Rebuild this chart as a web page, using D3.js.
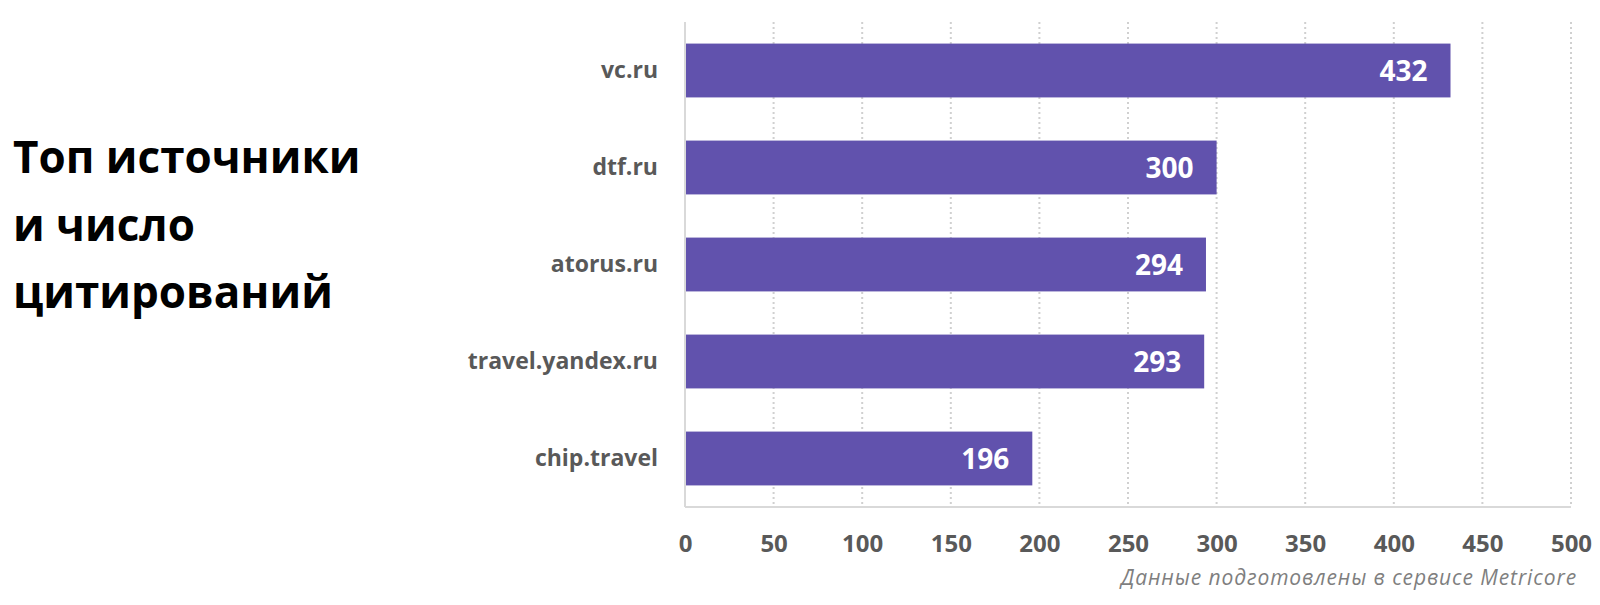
<!DOCTYPE html>
<html>
<head>
<meta charset="utf-8">
<script src="https://cdnjs.cloudflare.com/ajax/libs/d3/7.8.5/d3.min.js"></script>
<style>
  body { margin: 0; background: #fff; }
  text { font-family: "Open Sans", sans-serif; }
</style>
</head>
<body>
<div id="chart"></div>
<script>
// data
var sources = ["vc.ru", "dtf.ru", "atorus.ru", "travel.yandex.ru", "chip.travel"];
var citations = [432, 300, 294, 293, 196];
var ticks = [0, 50, 100, 150, 200, 250, 300, 350, 400, 450, 500];
var titleLines = ["Топ источники", "и число", "цитирований"];
var note = "Данные подготовлены в сервисе Metricore";

var W = 1600, H = 605;
var margin = { top: 22, left: 685, right: 29, bottom: 98 };
var width = W - margin.left - margin.right;
var height = H - margin.top - margin.bottom;

var svg = d3.select("#chart").append("svg")
  .attr("width", W)
  .attr("height", H);

// title on the left
svg.append("g").selectAll("text")
  .data(titleLines)
  .enter().append("text")
  .attr("x", 13)
  .attr("y", function(d, i) { return 173 + i * 67.5; })
  .style("font-size", "44px")
  .style("font-weight", "bold")
  .style("fill", "#000")
  .text(function(d) { return d; });

var g = svg.append("g")
  .attr("transform", "translate(" + margin.left + "," + margin.top + ")");

var x = d3.scaleLinear().domain([0, 500]).range([0, width]);
var y = d3.scaleBand().domain(sources).range([0, height]).paddingInner(0.445).paddingOuter(0.2225);

// dotted gridlines
g.selectAll(".grid")
  .data(ticks.slice(1))
  .enter().append("line")
  .attr("class", "grid")
  .attr("x1", function(d) { return x(d); })
  .attr("x2", function(d) { return x(d); })
  .attr("y1", 0)
  .attr("y2", height)
  .style("stroke", "#d0d0d0")
  .style("stroke-width", 2)
  .style("stroke-dasharray", "2,3");

// bars
var rows = sources.map(function(s, i) { return { name: s, value: citations[i] }; });

g.selectAll(".bar")
  .data(rows)
  .enter().append("rect")
  .attr("class", "bar")
  .attr("x", 0)
  .attr("y", function(d) { return y(d.name); })
  .attr("width", function(d) { return x(d.value); })
  .attr("height", y.bandwidth())
  .style("fill", "#6152ad");

// value labels inside bars
g.selectAll(".val")
  .data(rows)
  .enter().append("text")
  .attr("class", "val")
  .attr("x", function(d) { return x(d.value) - 23; })
  .attr("y", function(d) { return y(d.name) + y.bandwidth() / 2; })
  .attr("dy", "0.36em")
  .attr("text-anchor", "end")
  .style("font-size", "28px")
  .style("font-weight", "bold")
  .style("fill", "#fff")
  .text(function(d) { return d.value; });

// axis lines
g.append("line")
  .attr("x1", 0).attr("x2", 0)
  .attr("y1", 0).attr("y2", height)
  .style("stroke", "#d9d9d9").style("stroke-width", 2);
g.append("line")
  .attr("x1", 0).attr("x2", width)
  .attr("y1", height).attr("y2", height)
  .style("stroke", "#d9d9d9").style("stroke-width", 2);

// bottom axis labels
var xAxis = g.append("g")
  .attr("transform", "translate(0," + (height + 28) + ")")
  .call(d3.axisBottom(x).tickValues(ticks).tickSize(0).tickPadding(0));
xAxis.select(".domain").remove();
xAxis.selectAll("text")
  .attr("dy", "0.71em")
  .style("font-family", "'Open Sans', sans-serif")
  .style("font-size", "24px")
  .style("font-weight", "bold")
  .style("fill", "#595959");

// category labels
var yAxis = g.append("g")
  .call(d3.axisLeft(y).tickSize(0).tickPadding(27));
yAxis.select(".domain").remove();
yAxis.selectAll("text")
  .style("font-family", "'Open Sans', sans-serif")
  .style("font-size", "23px")
  .style("font-weight", "bold")
  .style("fill", "#595959");

// source note
svg.append("text")
  .attr("x", 1577)
  .attr("y", 585)
  .attr("text-anchor", "end")
  .style("font-size", "21px")
  .style("letter-spacing", "0.9px")
  .style("font-style", "italic")
  .style("fill", "#7f7f7f")
  .text(note);
</script>
</body>
</html>
